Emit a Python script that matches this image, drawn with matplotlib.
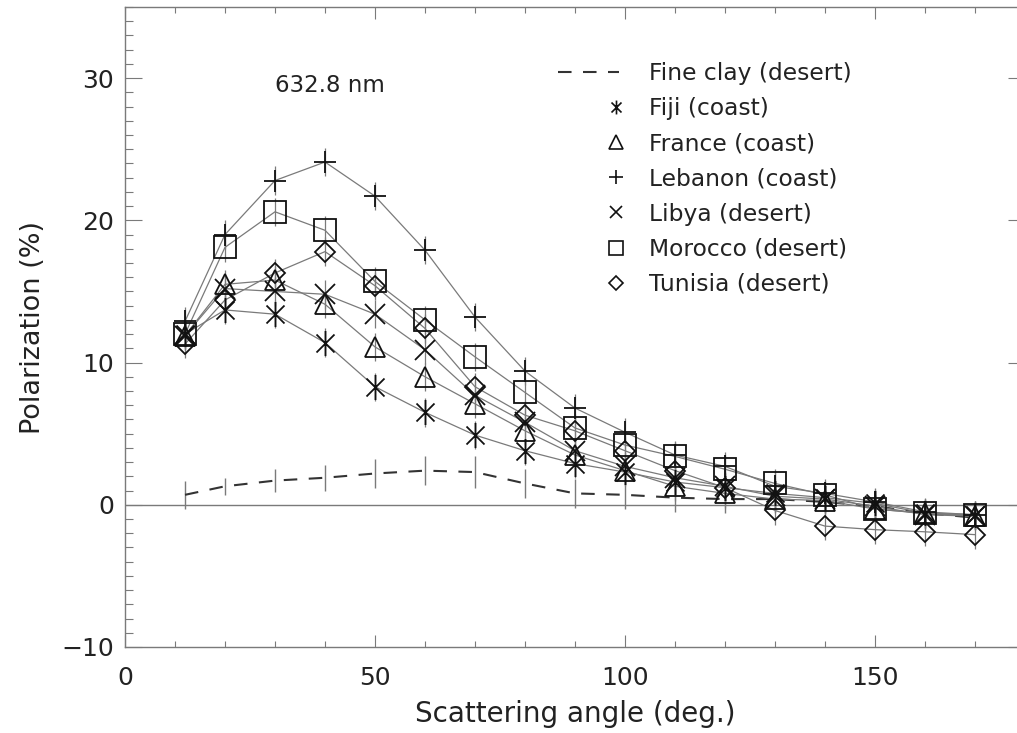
import numpy as np
import matplotlib
matplotlib.use("Agg")
import matplotlib.pyplot as plt
from matplotlib.path import Path
from matplotlib.lines import Line2D
from matplotlib.legend_handler import HandlerLine2D
from matplotlib.ticker import MultipleLocator, FixedLocator

# ---------------- data ----------------
angles = [12, 20, 30, 40, 50, 60, 70, 80, 90, 100, 110, 120, 130, 140, 150, 160, 170]

fine_clay = [0.7, 1.3, 1.7, 1.9, 2.2, 2.4, 2.3, 1.5, 0.8, 0.7, 0.5, 0.4, 0.4, 0.2, -0.1, -0.6, -0.9]
fine_clay_err = [1.0, 0.6, 0.8, 0.9, 1.0, 1.0, 1.1, 1.0, 1.0, 1.0, 1.0, 1.0, 0.9, 0.8, 0.8, 0.8, 0.8]

fiji = [12.0, 13.7, 13.4, 11.4, 8.3, 6.5, 4.9, 3.8, 2.9, 2.3, 1.6, 1.2, 0.8, 0.5, 0.1, -0.6, -0.7]
france = [11.9, 15.5, 15.8, 14.1, 11.1, 9.0, 7.1, 5.2, 3.5, 2.4, 1.3, 0.8, 0.4, 0.3, -0.3, -0.6, -0.8]
lebanon = [12.9, 19.0, 22.8, 24.1, 21.7, 17.9, 13.2, 9.4, 6.8, 5.1, 3.5, 2.7, 1.3, 0.8, 0.2, -0.5, -0.7]
libya = [11.9, 15.2, 15.0, 14.8, 13.4, 10.9, 7.7, 5.8, 3.8, 2.7, 1.9, 1.3, 0.6, 0.4, -0.1, -0.7, -0.8]
morocco = [12.0, 18.1, 20.6, 19.3, 15.7, 13.0, 10.4, 7.9, 5.4, 4.2, 3.4, 2.5, 1.5, 0.7, -0.3, -0.6, -0.7]
tunisia = [11.3, 14.4, 16.3, 17.8, 15.4, 12.4, 8.3, 6.3, 5.2, 3.8, 2.4, 1.2, -0.4, -1.5, -1.75, -1.9, -2.1]
sample_err = 1.0

labels = ["Fine clay (desert)", "Fiji (coast)", "France (coast)", "Lebanon (coast)",
          "Libya (desert)", "Morocco (desert)", "Tunisia (desert)"]

x_ticks = [0, 50, 100, 150]
y_ticks = [-10, 0, 10, 20, 30]
wavelength_label = "632.8 nm"

# ---------------- style ----------------
plt.rcParams['font.family'] = ['DejaVu Sans']
TXT = '#222222'
LINE = '#7a7a7a'
MK = '#111111'
SPINE = '#7a7a7a'

asterisk = Path([(0, -1), (0, 1), (-0.72, -0.72), (0.72, 0.72), (-0.72, 0.72), (0.72, -0.72)],
                [Path.MOVETO, Path.LINETO] * 3)

fig = plt.figure(figsize=(10.17, 7.33), dpi=100)
W, H = 1017.0, 733.0
ax = fig.add_axes([125 / W, 1 - 647 / H, 900 / W, 640 / H])

ax.set_xlim(0, 180)
ax.set_ylim(-10, 35)

ax.axhline(0, color=LINE, lw=1.0, zorder=1)

# fine clay: dashed line + error bars
ax.errorbar(angles, fine_clay, yerr=fine_clay_err, fmt='none', ecolor=LINE, elinewidth=1.0,
            capsize=0, zorder=2)
ax.plot(angles, fine_clay, color='#333333', lw=1.5, dashes=(6.5, 5.5), zorder=2)

series = [
    (fiji, asterisk, 18),
    (france, '^', 15),
    (lebanon, '+', 16),
    (libya, 'x', 15),
    (morocco, 's', 15.5),
    (tunisia, 'D', 10),
]
for vals, mk, ms in series:
    ax.errorbar(angles, vals, yerr=sample_err, fmt='none', ecolor=LINE, elinewidth=0.9,
                capsize=0, zorder=2)
    ax.plot(angles, vals, color=LINE, lw=0.9, zorder=3)
    ax.plot(angles, vals, ls='none', marker=mk, ms=ms, mec=MK, mfc='none', mew=1.3, zorder=4)

# axes styling
for s in ax.spines.values():
    s.set_color(SPINE)
    s.set_linewidth(1.0)

ax.xaxis.set_major_locator(FixedLocator(x_ticks))
ax.xaxis.set_minor_locator(MultipleLocator(10))
ax.yaxis.set_major_locator(FixedLocator(y_ticks))
ax.yaxis.set_minor_locator(MultipleLocator(1))

ax.tick_params(axis='both', which='both', direction='in', top=True, right=True,
               color=SPINE, width=0.8, labelcolor=TXT, labelsize=18)
ax.tick_params(axis='x', which='major', length=8.6, pad=14)
ax.tick_params(axis='x', which='minor', length=4.3)
ax.tick_params(axis='y', which='major', length=12.2, pad=8)
ax.tick_params(axis='y', which='minor', length=6.1)

ax.set_xlabel("Scattering angle (deg.)", fontsize=20, color=TXT, labelpad=7)
ax.set_ylabel("Polarization (%)", fontsize=19.5, color=TXT, labelpad=11)

ax.text(41, 29.5, wavelength_label, ha='center', va='center', fontsize=16.5, color=TXT)


# legend with markers right-aligned in the handle box
class RightHandler(HandlerLine2D):
    def get_xdata(self, legend, xdescent, ydescent, width, height, fontsize):
        x = -xdescent + width - 2.0
        return [x - 1, x + 1], [x]


leg_handles = [Line2D([], [], color='#333333', lw=1.5, dashes=(6.5, 5.5))]
leg_specs = [(asterisk, 10), ('^', 9.5), ('+', 10), ('x', 9), ('s', 10.5), ('D', 7)]
for mk, ms in leg_specs:
    leg_handles.append(Line2D([], [], ls='none', marker=mk, ms=ms, mec=MK, mfc='none', mew=1.2))

hmap = {h: RightHandler() for h in leg_handles[1:]}
leg = ax.legend(leg_handles, labels, handler_map=hmap, loc='upper left',
                bbox_to_anchor=(0.481, 0.914), borderaxespad=0, borderpad=0,
                frameon=False, fontsize=16.8, handlelength=2.6, handletextpad=1.3,
                labelspacing=0.52, labelcolor=TXT)

fig.savefig("out.png", dpi=100, facecolor='white')
